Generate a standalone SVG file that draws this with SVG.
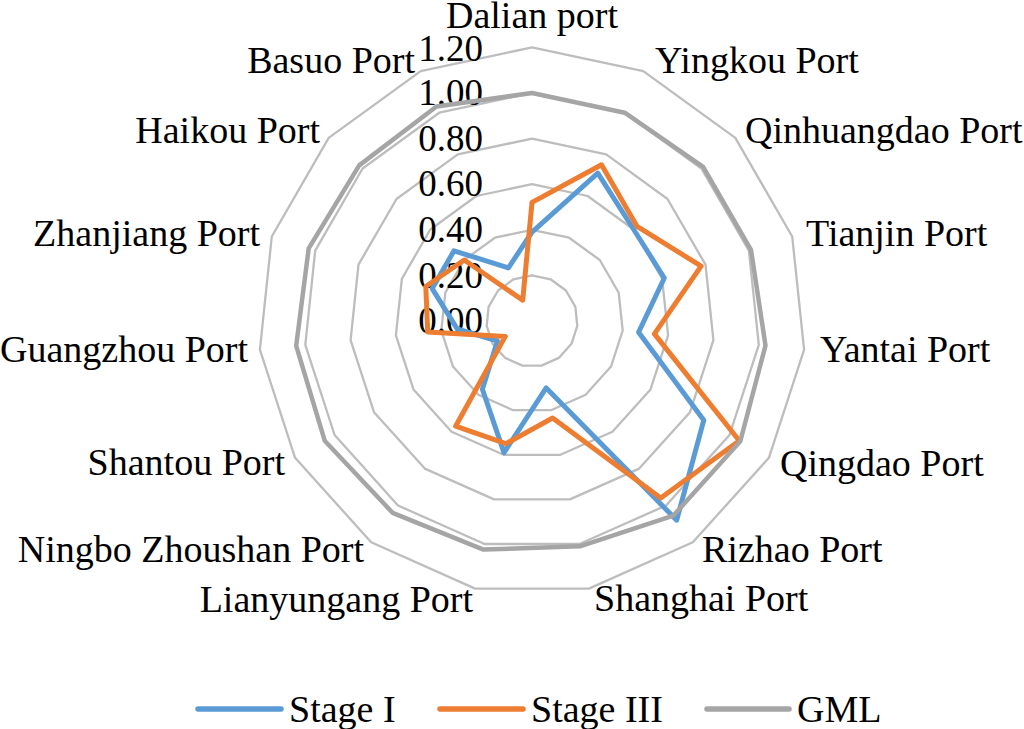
<svg xmlns="http://www.w3.org/2000/svg" width="1024" height="729" viewBox="0 0 1024 729">
<style>
text{font-family:"Liberation Serif","Times New Roman",serif;font-size:38px;fill:#000}
.val{font-size:37px;text-anchor:end}
.ring{fill:none;stroke:#BDBDBD;stroke-width:2.3;stroke-linejoin:round}
.s1{fill:none;stroke:#5B9BD5;stroke-width:5;stroke-linejoin:round}
.s3{fill:none;stroke:#ED7D31;stroke-width:5;stroke-linejoin:round}
.gml{fill:none;stroke:#A5A5A5;stroke-width:4.5;stroke-linejoin:round}
.leg{stroke-width:5.5;stroke-linecap:round}
.e{text-anchor:end}
.m{text-anchor:middle}
</style>
<rect width="1024" height="729" fill="#fff"/>
<g id="grid">
<polygon class="ring" points="532,275.4 550.5,279.3 565.9,290.5 575.4,306.9 577.3,325.8 571.5,343.8 558.8,357.9 541.5,365.6 522.5,365.6 505.2,357.9 492.5,343.8 486.7,325.8 488.6,306.9 498.1,290.5 513.5,279.3"/>
<polygon class="ring" points="532,229.8 569.1,237.7 599.8,260 618.7,292.8 622.7,330.5 611,366.6 585.6,394.8 551,410.2 513,410.2 478.4,394.8 453,366.6 441.3,330.5 445.3,292.8 464.2,260 494.9,237.7"/>
<polygon class="ring" points="532,184.2 587.6,196 633.7,229.5 662.1,278.7 668.1,335.3 650.5,389.4 612.4,431.7 560.4,454.8 503.6,454.8 451.6,431.7 413.5,389.4 395.9,335.3 401.9,278.7 430.3,229.5 476.4,196"/>
<polygon class="ring" points="532,138.6 606.2,154.4 667.5,199 705.5,264.6 713.4,340.1 690,412.2 639.2,468.6 569.9,499.4 494.1,499.4 424.8,468.6 374,412.2 350.6,340.1 358.5,264.6 396.5,199 457.8,154.4"/>
<polygon class="ring" points="532,93 624.7,112.7 701.4,168.5 748.9,250.6 758.8,344.8 729.5,435 666,505.5 579.4,544 484.6,544 398,505.5 334.6,435 305.3,344.8 315.2,250.6 362.6,168.5 439.3,112.7"/>
<polygon class="ring" points="532,47.4 643.3,71.1 735.3,137.9 792.2,236.5 804.1,349.6 768.9,457.8 692.8,542.3 588.9,588.6 475.1,588.6 371.2,542.3 295.1,457.8 259.9,349.6 271.8,236.5 328.7,137.9 420.7,71.1"/>
</g>
<g id="axis-values">
<text class="val" x="483" y="61">1.20</text>
<text class="val" x="483" y="105">1.00</text>
<text class="val" x="483" y="151">0.80</text>
<text class="val" x="483" y="196">0.60</text>
<text class="val" x="483" y="242">0.40</text>
<text class="val" x="483" y="288">0.20</text>
<text class="val" x="483" y="333">0.00</text>
</g>
<g id="series">
<polygon id="stage-i" class="s1" points="532,232.1 597.8,173.1 633.7,229.5 664.3,278 638.6,332.2 703.8,420.2 676.7,520.2 546.2,387.9 504,452.6 482.4,389.3 497.4,341 457.2,328.9 432.2,288.6 454,250.8 508.4,267.9"/>
<polygon id="stage-iii" class="s3" points="532,202.4 601.5,164.8 637.1,226.4 701.1,266.1 654.4,333.9 739.3,440.7 660.7,498.1 552.6,418 505.9,443.7 455.6,426.2 505.3,336.4 427.7,332 425.8,286.5 464.2,260 522.7,300.2"/>
<polygon id="gml" class="gml" points="532,93 624.7,112.7 703.1,166.9 751,249.8 765.5,345.5 740.3,441.3 673.4,515.6 579.9,546.3 483.4,549.6 392.6,512.8 324.7,440.7 296.2,345.8 308.7,248.4 359.2,165.4 436.5,106.5"/>
</g>
<g id="labels">
<g id="dalian"><text class="m" x="532" y="28">Dalian port</text></g>
<g id="yingkou"><text x="655" y="73">Yingkou Port</text></g>
<g id="qinhuangdao"><text x="745" y="143">Qinhuangdao Port</text></g>
<g id="tianjin"><text x="806" y="246">Tianjin Port</text></g>
<g id="yantai"><text x="820" y="362">Yantai Port</text></g>
<g id="qingdao"><text x="780" y="476">Qingdao Port</text></g>
<g id="rizhao"><text x="702" y="562">Rizhao Port</text></g>
<g id="shanghai"><text x="594" y="611">Shanghai Port</text></g>
<g id="lianyungang"><text class="e" x="473" y="612">Lianyungang Port</text></g>
<g id="ningbo"><text class="e" x="364" y="562">Ningbo Zhoushan Port</text></g>
<g id="shantou"><text class="e" x="285" y="475">Shantou Port</text></g>
<g id="guangzhou"><text class="e" x="248" y="362">Guangzhou Port</text></g>
<g id="zhanjiang"><text class="e" x="260" y="246">Zhanjiang Port</text></g>
<g id="haikou"><text class="e" x="320" y="143">Haikou Port</text></g>
<g id="basuo"><text class="e" x="415" y="73">Basuo Port</text></g>
</g>
<g id="legend">
<line class="leg" x1="198" y1="709" x2="281" y2="709" stroke="#5B9BD5"/>
<text x="289" y="722">Stage I</text>
<line class="leg" x1="440" y1="709" x2="523" y2="709" stroke="#ED7D31"/>
<text x="531" y="722">Stage III</text>
<line class="leg" x1="707" y1="709" x2="789" y2="709" stroke="#A5A5A5"/>
<text x="797" y="722">GML</text>
</g>
</svg>
